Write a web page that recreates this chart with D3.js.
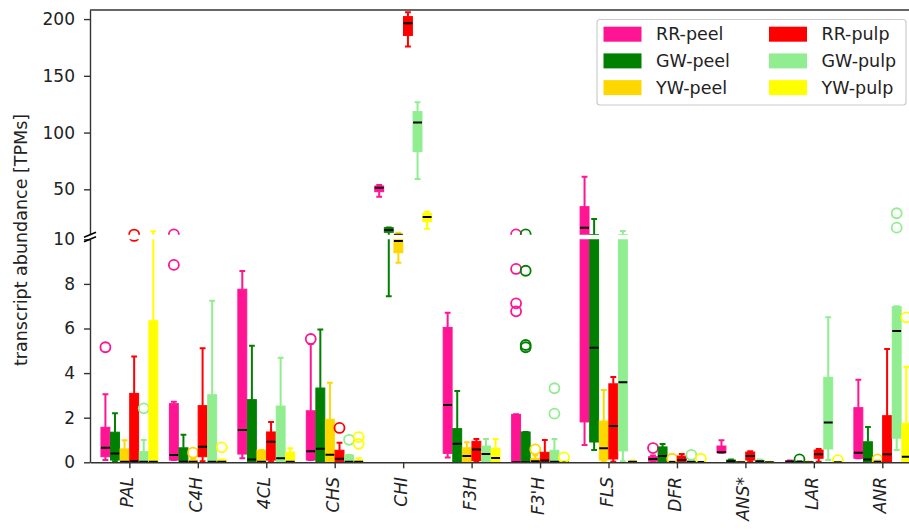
<!DOCTYPE html>
<html>
<head>
<meta charset="utf-8">
<script src="https://cdn.jsdelivr.net/npm/d3@7"></script>
<style>
body { margin: 0; background: #fff; }
svg { display: block; font-family: "DejaVu Sans", sans-serif; }
</style>
</head>
<body>
<svg id="chart" width="909" height="530"></svg>
<script>
const genes = ["PAL", "C4H", "4CL", "CHS", "CHI", "F3H", "F3'H", "FLS", "DFR", "ANS*", "LAR", "ANR"];
const seriesNames = ["RR-peel", "GW-peel", "YW-peel", "RR-pulp", "GW-pulp", "YW-pulp"];
const seriesColors = ["#ff1493", "#008000", "#ffd700", "#ff0000", "#90ee90", "#ffff00"];

// per gene: [whisker low, q1, median, q3, whisker high]
const rrPeel = [[0.1, 0.25, 0.65, 1.57, 3.05], [0.1, 0.1, 0.33, 2.63, 2.72], [0.18, 0.37, 1.45, 7.76, 8.58],
  [0.1, 0.1, 0.49, 2.31, 5.3], [43.5, 47.9, 51.4, 52.9, 53.8], [0.21, 0.4, 2.57, 6.05, 6.71],
  [0, 0, 0, 2.15, 2.15], [0.78, 1.81, 16.2, 34.7, 61.1], [0.05, 0.05, 0.15, 0.25, 0.3],
  [0.43, 0.43, 0.45, 0.73, 0.99], [0, 0.02, 0.04, 0.06, 0.08], [0.18, 0.18, 0.43, 2.45, 3.7]];
const gwPeel = [[0.05, 0.1, 0.39, 1.35, 2.2], [0, 0, 0.03, 0.65, 1.24], [0, 0, 0.13, 2.81, 5.23],
  [0, 0, 0.61, 3.33, 5.95], [7.45, 12.1, 14.1, 16.2, 16.4], [0, 0, 0.83, 1.51, 3.2],
  [0, 0, 0, 1.36, 1.36], [0.55, 0.91, 5.14, 10.1, 23.8], [0, 0, 0.28, 0.69, 0.82],
  [0, 0.02, 0.05, 0.1, 0.12], [0, 0, 0.01, 0.03, 0.05], [0, 0, 0.12, 0.92, 1.58]];
const ywPeel = [[0, 0, 0.02, 0.6, 0.99], [0, 0, 0.03, 0.1, 0.15], [0, 0, 0.02, 0.54, 0.55],
  [0, 0, 0.34, 1.93, 3.57], [8.95, 9.4, 9.92, 10.05, 11.8], [0, 0, 0.28, 0.65, 0.9],
  [0, 0.02, 0.05, 0.18, 0.3], [0.05, 0.1, 0.63, 1.85, 3.24], [0, 0, 0.01, 0.03, 0.05],
  [0, 0, 0, 0.01, 0.02], [0, 0, 0, 0.01, 0.02], [0, 0, 0.02, 0.05, 0.08]];
const rrPulp = [[0, 0, 0.05, 3.09, 4.75], [0.05, 0.25, 0.7, 2.54, 5.11], [0.05, 0.1, 0.92, 1.36, 1.81],
  [0, 0, 0.16, 0.54, 0.88], [175.8, 185.5, 196.4, 202.2, 206.1], [0.05, 0.08, 0.57, 0.94, 1.04],
  [0, 0, 0.08, 0.45, 1.0], [0.02, 0.15, 1.63, 3.52, 3.83], [0, 0, 0.1, 0.28, 0.37],
  [0.05, 0.1, 0.28, 0.46, 0.5], [0.02, 0.18, 0.36, 0.55, 0.6], [0, 0, 0.36, 2.09, 5.08]];
const gwPulp = [[0, 0, 0.02, 0.48, 1.0], [0, 0, 0.02, 3.03, 7.25], [0, 0, 0.18, 2.52, 4.69],
  [0, 0, 0.02, 0.33, 0.33], [59.1, 83.2, 108.8, 118.5, 126.8], [0, 0, 0.37, 0.73, 1.04],
  [0, 0, 0.02, 0.54, 1.04], [0.05, 0.51, 3.59, 10.05, 13.3], [0, 0, 0.02, 0.05, 0.07],
  [0, 0.02, 0.05, 0.1, 0.12], [0.1, 0.6, 1.78, 3.81, 6.5], [0.55, 1.08, 5.89, 6.98, 7.0]];
const ywPulp = [[0, 0, 0.03, 6.35, 13.0], [0, 0, 0.02, 0.12, 0.12], [0, 0, 0.02, 0.46, 0.63],
  [0, 0, 0.03, 0.1, 0.18], [15.3, 21.5, 25.6, 28.9, 30.3], [0, 0, 0.19, 0.63, 1.04],
  [0, 0, 0.01, 0.03, 0.05], [0, 0.01, 0.03, 0.05, 0.08], [0, 0, 0.01, 0.02, 0.03],
  [0, 0, 0, 0.01, 0.02], [0, 0, 0, 0.01, 0.02], [0, 0, 0.25, 1.75, 4.29]];

// outliers per gene
const rrPeelFliers = [[5.16], [8.85, 10.35], [], [5.53], [], [], [6.77, 7.13, 8.67, 10.35], [], [0.64], [], [], []];
const gwPeelFliers = [[], [], [], [], [], [], [5.16, 5.26, 8.59, 10.35], [], [], [], [0.13], []];
const ywPeelFliers = [[], [0.43], [], [], [], [], [0.58], [], [0.16], [], [], [0.13]];
const rrPulpFliers = [[10.15], [], [], [1.54], [], [], [], [], [], [], [], []];
const gwPulpFliers = [[2.42], [], [], [1.01], [], [], [2.18, 3.32], [], [0.33], [], [], [16.2, 28.9]];
const ywPulpFliers = [[], [0.67], [], [0.83, 1.13], [], [], [0.22], [], [0.16], [], [0.1], [6.5]];

const allStats = [rrPeel, gwPeel, ywPeel, rrPulp, gwPulp, ywPulp];
const allFliers = [rrPeelFliers, gwPeelFliers, ywPeelFliers, rrPulpFliers, gwPulpFliers, ywPulpFliers];

const width = 909, height = 530;
const left = 90;
const svg = d3.select("#chart");

const x = d3.scaleLinear().domain([-0.575, 11.6]).range([left, left + 12.175 * 68.45]);
const yTop = d3.scaleLinear().domain([10, 208]).range([234.7, 10]);
const yBot = d3.scaleLinear().domain([0, 10]).range([462.3, 239.3]);

const step = 0.14, boxW = 0.13, capW = 0.085;

// table of boxes
const boxes = [];
allStats.forEach((s, k) => {
  s.forEach((v, i) => {
    boxes.push({ gene: i, k, color: seriesColors[k], lo: v[0], q1: v[1], med: v[2], q3: v[3], hi: v[4],
      fliers: allFliers[k][i], pos: i + (k - 2.5) * step });
  });
});

const defs = svg.append("defs");
defs.append("clipPath").attr("id", "clip-top").append("rect")
  .attr("x", left).attr("y", yTop.range()[1]).attr("width", width).attr("height", yTop.range()[0] - yTop.range()[1]);
defs.append("clipPath").attr("id", "clip-bot").append("rect")
  .attr("x", left).attr("y", yBot.range()[1]).attr("width", width).attr("height", yBot.range()[0] - yBot.range()[1]);

function drawPanel(y, clipId) {
  const [dMin, dMax] = y.domain();
  const g = svg.append("g").attr("clip-path", `url(#${clipId})`);
  const b = g.selectAll("g.box").data(boxes).enter().append("g").attr("class", "box");

  b.append("line")
    .attr("x1", d => x(d.pos)).attr("x2", d => x(d.pos))
    .attr("y1", d => y(d.lo)).attr("y2", d => y(d.q1))
    .attr("stroke", d => d.color).attr("stroke-width", 2);
  b.append("line")
    .attr("x1", d => x(d.pos)).attr("x2", d => x(d.pos))
    .attr("y1", d => y(d.q3)).attr("y2", d => y(d.hi))
    .attr("stroke", d => d.color).attr("stroke-width", 2);
  ["lo", "hi"].forEach(key => {
    b.append("line")
      .attr("x1", d => x(d.pos - capW / 2)).attr("x2", d => x(d.pos + capW / 2))
      .attr("y1", d => y(d[key])).attr("y2", d => y(d[key]))
      .attr("stroke", d => d.color).attr("stroke-width", 2);
  });
  b.append("rect")
    .attr("x", d => x(d.pos - boxW / 2))
    .attr("width", d => x(d.pos + boxW / 2) - x(d.pos - boxW / 2))
    .attr("y", d => y(d.q3))
    .attr("height", d => y(d.q1) - y(d.q3))
    .attr("fill", d => d.color).attr("stroke", d => d.color).attr("stroke-width", 1);
  b.append("line")
    .attr("x1", d => x(d.pos - boxW / 2)).attr("x2", d => x(d.pos + boxW / 2))
    .attr("y1", d => y(d.med)).attr("y2", d => y(d.med))
    .attr("stroke", "#000").attr("stroke-width", 2);
  // only fliers near this panel's range
  b.selectAll("circle")
    .data(d => d.fliers.filter(v => v > dMin - 0.5 && v < dMax + 0.5).map(v => ({ v, pos: d.pos, color: d.color })))
    .enter().append("circle")
    .attr("cx", d => x(d.pos)).attr("cy", d => y(d.v)).attr("r", 5)
    .attr("fill", "none").attr("stroke", d => d.color).attr("stroke-width", 1.8);
}
drawPanel(yTop, "clip-top");
drawPanel(yBot, "clip-bot");

const axisColor = "#333";
function styleAxis(g) {
  g.selectAll("path, line").attr("stroke", axisColor).attr("stroke-width", 1.4);
  g.selectAll("text").attr("font-family", "DejaVu Sans").attr("font-size", 17).attr("fill", "#222");
}

svg.append("g").attr("transform", `translate(${left},0)`)
  .call(d3.axisLeft(yTop).tickValues([50, 100, 150, 200]).tickSize(6).tickSizeOuter(0).tickPadding(9))
  .call(styleAxis);
svg.append("g").attr("transform", `translate(${left},0)`)
  .call(d3.axisLeft(yBot).tickValues([0, 2, 4, 6, 8, 10]).tickSize(6).tickSizeOuter(0).tickPadding(9))
  .call(styleAxis);

svg.append("g").attr("transform", `translate(0,${yBot.range()[0]})`)
  .call(d3.axisBottom(x).tickValues(d3.range(genes.length)).tickSize(6).tickSizeOuter(0).tickFormat(""))
  .call(styleAxis);

// top spine
svg.append("line").attr("x1", left).attr("x2", width).attr("y1", yTop.range()[1]).attr("y2", yTop.range()[1])
  .attr("stroke", axisColor).attr("stroke-width", 1.4);

// break marks
[yTop.range()[0], yBot.range()[1]].forEach(yy => {
  svg.append("line").attr("x1", left - 6).attr("x2", left + 6).attr("y1", yy + 2.5).attr("y2", yy - 2.5)
    .attr("stroke", "#000").attr("stroke-width", 1.6);
});

// gene labels
svg.selectAll("text.gene").data(genes).enter().append("text")
  .attr("class", "gene")
  .attr("transform", (d, i) => `translate(${x(i) + 4},477) rotate(-90)`)
  .attr("text-anchor", "end")
  .attr("font-size", 17).attr("font-style", "italic").attr("fill", "#222")
  .text(d => d);

// y label
svg.append("text")
  .attr("transform", "translate(27,240) rotate(-90)")
  .attr("text-anchor", "middle")
  .attr("font-size", 17.5).attr("fill", "#222")
  .text("transcript abundance [TPMs]");

// legend
const legend = svg.append("g");
legend.append("rect").attr("x", 597).attr("y", 19.5).attr("width", 309).attr("height", 85.5)
  .attr("rx", 3).attr("fill", "#fff").attr("fill-opacity", 0.8).attr("stroke", "#ccc").attr("stroke-width", 1.2);
const li = legend.selectAll("g.item").data(seriesNames).enter().append("g").attr("class", "item")
  .attr("transform", (d, i) => `translate(${i < 3 ? 603.5 : 769},${26.7 + (i % 3) * 26.7})`);
li.append("rect").attr("width", 38).attr("height", 15).attr("fill", (d, i) => seriesColors[i]);
li.append("text").attr("x", 52.5).attr("y", 7.5).attr("dy", "0.35em")
  .attr("font-size", 17.5).attr("fill", "#222").text(d => d);
</script>
</body>
</html>
